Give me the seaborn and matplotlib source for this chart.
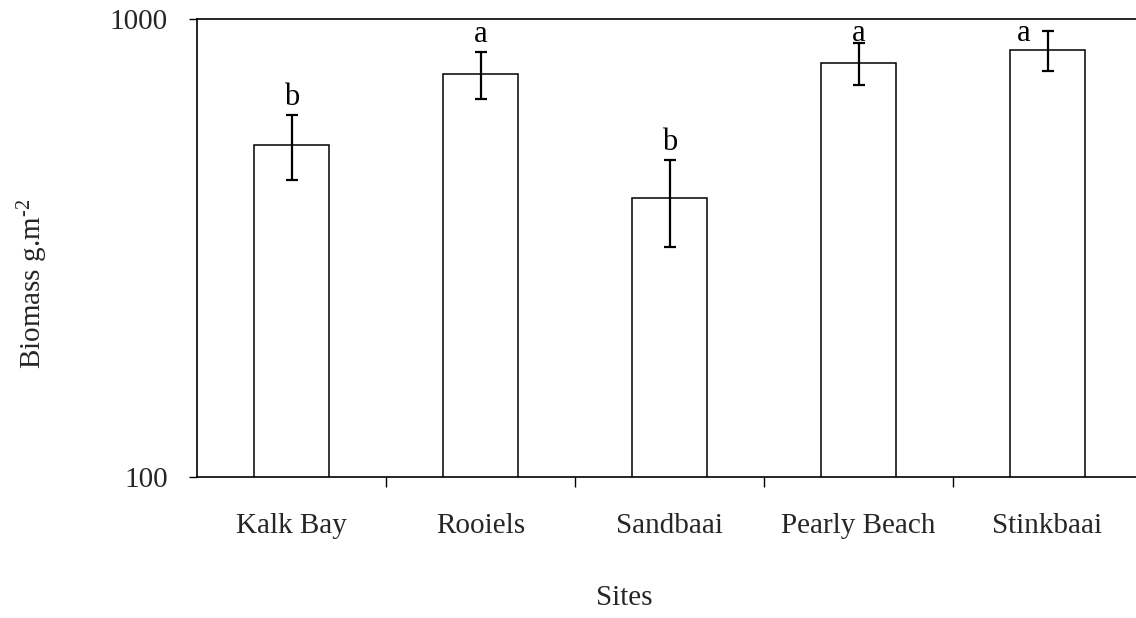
import numpy as np
import pandas as pd
import matplotlib
matplotlib.use("Agg")
import matplotlib.pyplot as plt
import seaborn as sns

# ---- data ----
sites = ["Kalk Bay", "Rooiels", "Sandbaai", "Pearly Beach", "Stinkbaai"]
biomass = [532, 760, 406, 803, 857]
err_low = [444, 670, 318, 716, 769]
err_high = [617, 848, 491, 888, 942]
letters = ["b", "a", "b", "a", "a"]
y_ticks = [100, 1000]
y_ticklabels = ["100", "1000"]

sns.set_theme(style="white")
plt.rcParams["font.family"] = ["Liberation Serif", "DejaVu Serif"]
plt.rcParams["mathtext.fontset"] = "custom"
plt.rcParams["mathtext.rm"] = "Liberation Serif"
plt.rcParams["mathtext.it"] = "Liberation Serif:italic"

FS = 21
fig = plt.figure(figsize=(11.36, 6.18), dpi=100)
ax = fig.add_axes([197 / 1136, (618 - 477) / 618, 945 / 1136, 458 / 618])

df = pd.DataFrame({"Site": sites, "Biomass": biomass})
sns.barplot(data=df, x="Site", y="Biomass", ax=ax, color="white",
            edgecolor="black", linewidth=1.1, width=0.40, saturation=1,
            errorbar=None)

ax.set_yscale("log")
ax.set_ylim(100, 1000)
ax.set_xlim(-0.5, 4.5)

means = np.array(biomass, dtype=float)
lo = means - np.array(err_low)
hi = np.array(err_high) - means
ax.errorbar(np.arange(len(sites)), means, yerr=[lo, hi], fmt="none",
            ecolor="black", elinewidth=1.6, capsize=4, capthick=1.6)

# y axis
ax.set_yticks(y_ticks)
ax.set_yticklabels(y_ticklabels)
ax.yaxis.set_minor_locator(matplotlib.ticker.NullLocator())
ax.tick_params(axis="y", which="major", left=True, direction="out",
               length=6, width=1.0, labelsize=FS, pad=15, color="black")

# x axis: labels at categories, tick marks between categories
ax.set_xticks(range(len(sites)))
ax.set_xticklabels(sites)
ax.set_xticks([i + 0.5 for i in range(len(sites) - 1)], minor=True)
ax.tick_params(axis="x", which="major", length=0, labelsize=FS, pad=26)
ax.tick_params(axis="x", which="minor", bottom=True, direction="out",
               length=7, width=1.0, color="black")

for side in ["left", "bottom", "top"]:
    ax.spines[side].set_visible(True)
    ax.spines[side].set_color("black")
    ax.spines[side].set_linewidth(1.2)
ax.spines["right"].set_visible(False)

ax.set_xlabel("Sites", fontsize=FS)
ax.xaxis.set_label_coords(0.452, -0.236)
ax.set_ylabel("Biomass g.m$^{\\mathregular{\u2010" + "2}}$", fontsize=FS)
ax.yaxis.set_label_coords(-0.156, 0.421)

# significance letters above error bars
H = ax.bbox.height
for i, (lt, top) in enumerate(zip(letters, err_high)):
    d = H * np.log10(1000.0 / top)  # pixels between err top and axes top
    base_from_top = d - 10
    dx = 0
    if base_from_top < 22:
        base_from_top = 22
    if d < 20:
        dx = -24
    dy = d - base_from_top
    ax.annotate(lt, xy=(i, top), xytext=(dx, dy), textcoords="offset pixels",
                ha="center", va="baseline", fontsize=FS + 1, color="black")

fig.savefig("out.png", dpi=100, facecolor="white")
